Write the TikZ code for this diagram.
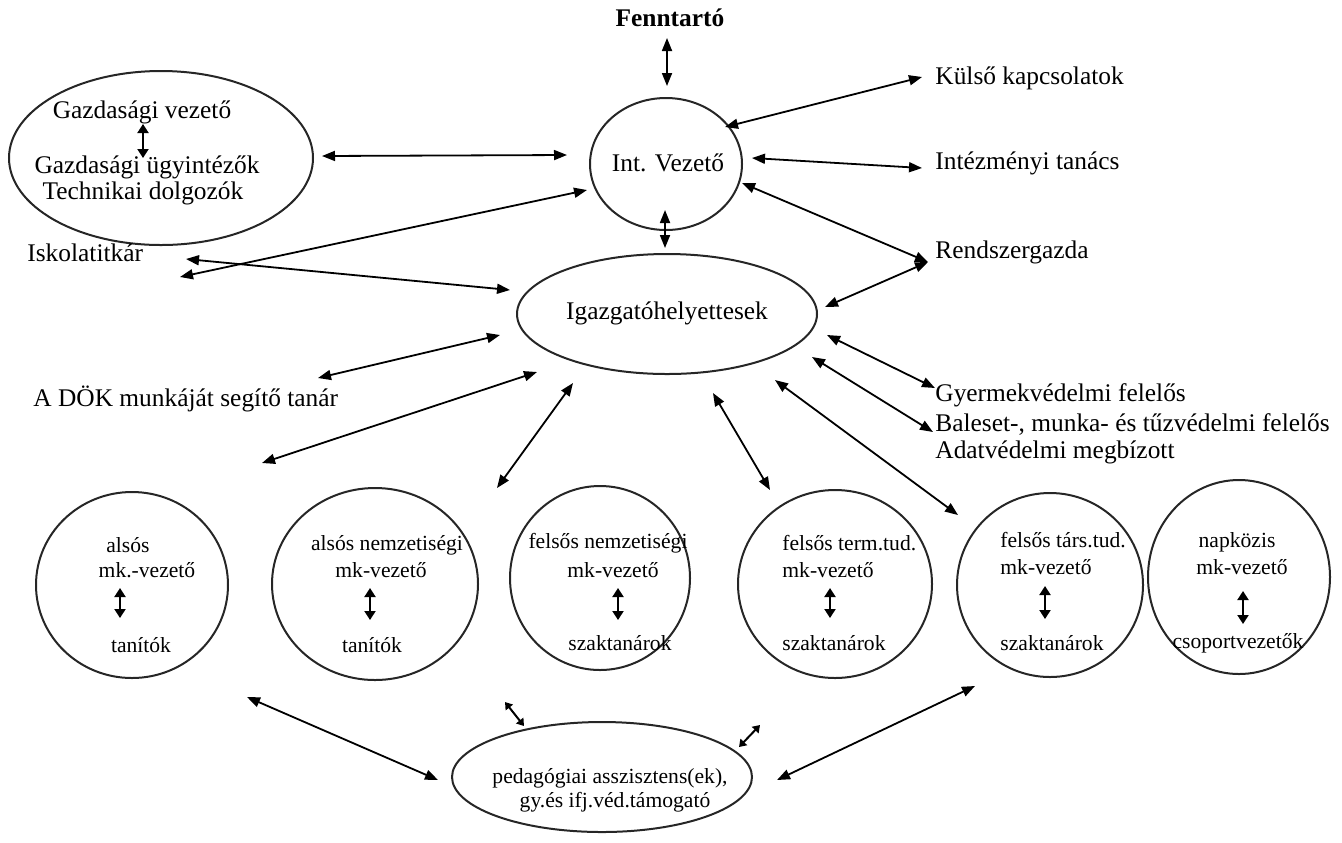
\documentclass[tikz,border=0pt]{standalone}
\usepackage{fontspec}
\setmainfont{Liberation Serif}
\usetikzlibrary{arrows.meta,shapes.geometric}
\begin{document}
\begin{tikzpicture}[x=0.5pt,y=-0.5pt,
  oval/.style={draw=black!85, line width=1pt, ellipse, inner sep=0pt},
  big/.style={font=\fontsize{12.7}{15}\selectfont, inner sep=0pt},
  small/.style={font=\fontsize{10.8}{13}\selectfont, inner sep=0pt},
  link/.style={{Triangle[length=6.5pt,width=5pt]}-{Triangle[length=6.5pt,width=5pt]}, line width=0.9pt},
  inner/.style={{Triangle[length=4.5pt,width=5.5pt]}-{Triangle[length=4.5pt,width=5.5pt]}, line width=1pt},
  tiny/.style={{Triangle[length=3.5pt,width=4.5pt]}-{Triangle[length=3.5pt,width=4.5pt]}, line width=1pt},
]
\useasboundingbox (0,0) rectangle (1342,842);

% ovals
\node[oval, minimum width=152pt, minimum height=87pt] (gazd) at (161,158) {};
\node[oval, minimum width=76pt, minimum height=66pt] (iv) at (666,164) {};
\node[oval, minimum width=150pt, minimum height=60pt] (igh) at (667,314) {};
\node[oval, minimum width=96pt, minimum height=93pt] (c1) at (132,585) {};
\node[oval, minimum width=103pt, minimum height=96pt] (c2) at (375,584) {};
\node[oval, minimum width=90pt, minimum height=92pt] (c3) at (600,578) {};
\node[oval, minimum width=97pt, minimum height=94pt] (c4) at (835,584) {};
\node[oval, minimum width=93pt, minimum height=92pt] (c5) at (1050,585) {};
\node[oval, minimum width=91pt, minimum height=97pt] (c6) at (1239,577) {};
\node[oval, minimum width=150pt, minimum height=55pt] (ped) at (602,777) {};

% texts
\node[big, font=\fontsize{12.7}{15}\selectfont\bfseries] (fenn) at (670,18) {Fenntartó};
\node[big] (gv) at (142,112) {Gazdasági vezető};
\node[big] (gu) at (147,167) {Gazdasági ügyintézők};
\node[big] (td) at (143,193) {Technikai dolgozók};
\node[big] (ivt) at (668,163) {Int. Vezető};
\node[big] (ight) at (667,313) {Igazgatóhelyettesek};
\node[big, anchor=west] (isk) at (27,253) {Iskolatitkár};
\node[big, anchor=west] (kk) at (935,78) {Külső kapcsolatok};
\node[big, anchor=west] (it) at (935,163) {Intézményi tanács};
\node[big, anchor=west] (rg) at (935,252) {Rendszergazda};
\node[big, anchor=west] (gyv) at (935,395) {Gyermekvédelmi felelős};
\node[big, anchor=west] (bal) at (935,424) {Baleset-, munka- és tűzvédelmi felelős};
\node[big, anchor=west] (adat) at (935,452) {Adatvédelmi megbízott};
\node[big, anchor=west] (dok) at (33,399) {A DÖK munkáját segítő tanár};

\node[small] (c1a) at (128,545) {alsós};
\node[small] (c1b) at (147,570) {mk.-vezető};
\node[small] (c1c) at (141,645) {tanítók};
\node[small] (c2a) at (387,545) {alsós nemzetiségi};
\node[small] (c2b) at (381,570) {mk-vezető};
\node[small] (c2c) at (372,645) {tanítók};
\node[small] (c3a) at (608,543) {felsős nemzetiségi};
\node[small] (c3b) at (613,570) {mk-vezető};
\node[small] (c3c) at (620,643) {szaktanárok};
\node[small, anchor=west] (c4a) at (782,543) {felsős term.tud.};
\node[small, anchor=west] (c4b) at (782,570) {mk-vezető};
\node[small, anchor=west] (c4c) at (782,643) {szaktanárok};
\node[small, anchor=west] (c5a) at (1000,540) {felsős társ.tud.};
\node[small, anchor=west] (c5b) at (1000,567) {mk-vezető};
\node[small, anchor=west] (c5c) at (1000,643) {szaktanárok};
\node[small] (c6a) at (1237,542) {napközis};
\node[small] (c6b) at (1242,567) {mk-vezető};
\node[small] (c6c) at (1238,643) {csoportvezetők};
\node[small] (peda) at (610,778) {pedagógiai asszisztens(ek),};
\node[small] (pedb) at (615,802) {gy.és ifj.véd.támogató};

% connector end points
\coordinate (fenn-s) at (667,38);   \coordinate (iv-n) at (667,86);
\coordinate (gazd-e) at (322,156);  \coordinate (iv-w) at (567,155);
\coordinate (isk-e1) at (180,277);  \coordinate (iv-sw) at (587,190);
\coordinate (isk-e2) at (186,259);  \coordinate (igh-w) at (510,290);
\coordinate (iv-s) at (665,210);    \coordinate (igh-n) at (665,248);
\coordinate (iv-ne) at (725,127);   \coordinate (kk-w) at (922,77);
\coordinate (iv-e) at (752,158);    \coordinate (it-w) at (922,168);
\coordinate (rg-w) at (928,262);
\coordinate (iv-se) at (742,183);   \coordinate (igh-e) at (825,307);
\coordinate (igh-se1) at (827,335); \coordinate (gyv-w) at (935,388);
\coordinate (igh-se2) at (812,357); \coordinate (bal-w) at (933,432);
\coordinate (igh-se3) at (775,380); \coordinate (c5-nw) at (958,515);
\coordinate (igh-s2) at (713,393);  \coordinate (c4-nw) at (770,490);
\coordinate (igh-s1) at (573,383);  \coordinate (c3-nw) at (497,488);
\coordinate (igh-sw) at (537,372);  \coordinate (c1-ne) at (262,463);
\coordinate (dok-e) at (318,378);   \coordinate (igh-w2) at (500,335);
\coordinate (c1-se) at (247,697);   \coordinate (ped-w) at (438,780);
\coordinate (ped-e) at (777,780);   \coordinate (c5-sw) at (975,686);
\coordinate (ped-nw1) at (505,702); \coordinate (ped-nw2) at (524,726);
\coordinate (ped-ne1) at (760,725); \coordinate (ped-ne2) at (739,747);

% connectors
\draw[link] (fenn-s) -- (iv-n);
\draw[link] (gazd-e) -- (iv-w);
\draw[link] (isk-e1) -- (iv-sw);
\draw[link] (isk-e2) -- (igh-w);
\draw[link] (iv-s) -- (igh-n);
\draw[link] (iv-ne) -- (kk-w);
\draw[link] (iv-e) -- (it-w);
\draw[link] (rg-w) -- (iv-se);
\draw[link] (rg-w) -- (igh-e);
\draw[link] (igh-se1) -- (gyv-w);
\draw[link] (igh-se2) -- (bal-w);
\draw[link] (igh-se3) -- (c5-nw);
\draw[link] (igh-s2) -- (c4-nw);
\draw[link] (igh-s1) -- (c3-nw);
\draw[link] (igh-sw) -- (c1-ne);
\draw[link] (dok-e) -- (igh-w2);
\draw[link] (c1-se) -- (ped-w);
\draw[link] (ped-e) -- (c5-sw);
\draw[tiny] (ped-nw1) -- (ped-nw2);
\draw[tiny] (ped-ne1) -- (ped-ne2);

% inner arrows
\coordinate (gv-s) at (143,124); \coordinate (gu-n) at (143,158);
\draw[inner] (gv-s) -- (gu-n);
\coordinate (c1-u) at (120,588);  \coordinate (c1-d) at (120,618);
\coordinate (c2-u) at (370,588);  \coordinate (c2-d) at (370,620);
\coordinate (c3-u) at (618,588);  \coordinate (c3-d) at (618,620);
\coordinate (c4-u) at (830,588);  \coordinate (c4-d) at (830,618);
\coordinate (c5-u) at (1045,586); \coordinate (c5-d) at (1045,619);
\coordinate (c6-u) at (1243,591); \coordinate (c6-d) at (1243,624);
\draw[inner] (c1-u) -- (c1-d);
\draw[inner] (c2-u) -- (c2-d);
\draw[inner] (c3-u) -- (c3-d);
\draw[inner] (c4-u) -- (c4-d);
\draw[inner] (c5-u) -- (c5-d);
\draw[inner] (c6-u) -- (c6-d);
\end{tikzpicture}
\end{document}
